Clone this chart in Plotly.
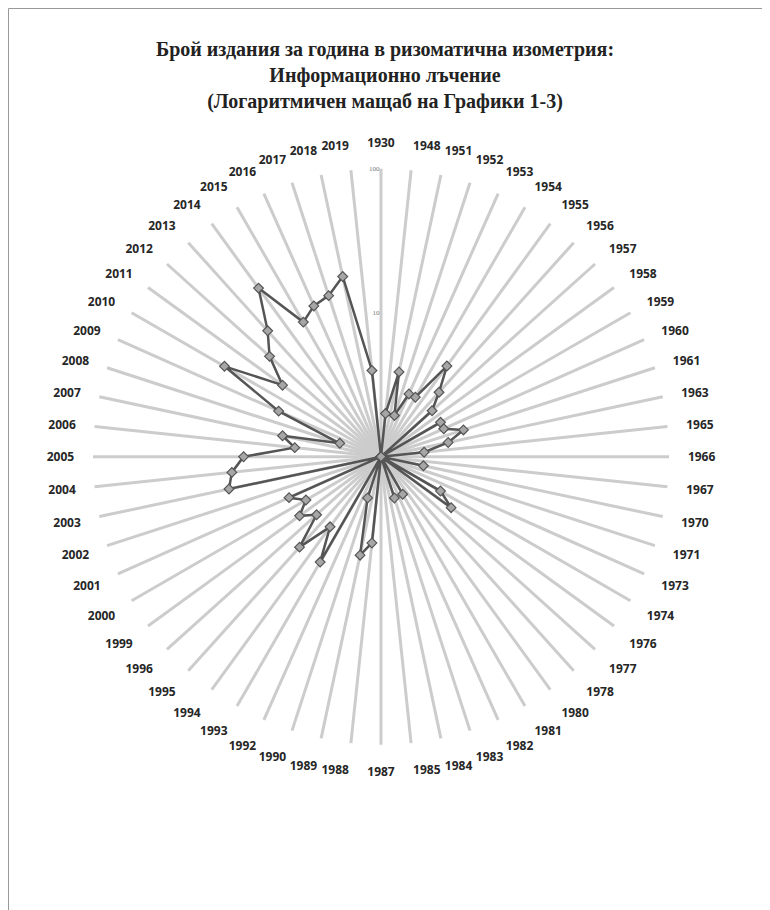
import plotly.graph_objects as go

years = ["1930", "1948", "1951", "1952", "1953", "1954", "1955", "1956", "1957", "1958",
         "1959", "1960", "1961", "1963", "1965", "1966", "1967", "1970", "1971", "1973",
         "1974", "1976", "1977", "1978", "1980", "1981", "1982", "1983", "1984", "1985",
         "1987", "1988", "1989", "1990", "1992", "1993", "1994", "1995", "1996", "1999",
         "2000", "2001", "2002", "2003", "2004", "2005", "2006", "2007", "2008", "2009",
         "2010", "2011", "2012", "2013", "2014", "2015", "2016", "2017", "2018", "2019"]

counts = [1, 2, 4, 2, 3, 3, 6, 4, 3, 1,
          3, 3, 4, 3, 2, 1, 1, 2, 1, 1,
          3, 4, 1, 1, 1, 2, 1, 2, 1, 1,
          1, 4, 5, 2, 1, 7, 4, 7, 4, 5,
          4, 5, 1, 12, 11, 9, 4, 5, 2, 6,
          18, 7, 11, 15, 28, 12, 14, 15, 19, 4]

radial_ticks = [1, 10, 100]

title_text = ("Брой издания за година в ризоматична изометрия:<br>"
              "Информационно лъчение<br>"
              "(Логаритмичен мащаб на Графики 1-3)")

# page has an 8px body margin, so the figure is drawn 8px in from the window edge
W, H = 762, 902
cx, cy, R = 373, 448.7, 288

fig = go.Figure()
fig.add_trace(go.Scatterpolar(
    r=counts + counts[:1],
    theta=years + years[:1],
    mode="lines+markers",
    line=dict(color="#555555", width=2.5),
    marker=dict(symbol="diamond", size=7.5, color="#a6a6a6",
                line=dict(color="#555555", width=1.2)),
    showlegend=False,
))

fig.update_layout(
    width=W, height=H,
    margin=dict(l=0, r=0, t=0, b=0),
    paper_bgcolor="white",
    plot_bgcolor="white",
    title=dict(text=title_text, x=(385 - 8) / W, xanchor="center",
               y=1 - 48 / H, yanchor="top",
               font=dict(family="Liberation Serif", size=20, color="#222222",
                         weight="bold")),
    polar=dict(
        domain=dict(x=[(cx - R) / W, (cx + R) / W],
                    y=[(H - cy - R) / H, (H - cy + R) / H]),
        bgcolor="white",
        angularaxis=dict(
            type="category",
            categoryarray=years,
            rotation=90,
            direction="clockwise",
            showline=False,
            showgrid=True,
            gridcolor="#cccccc",
            gridwidth=3,
            ticks="outside",
            ticklen=16,
            tickcolor="rgba(0,0,0,0)",
            tickfont=dict(family="Open Sans", size=12, color="#262626",
                          weight="bold"),
        ),
        radialaxis=dict(
            type="log",
            range=[0, 2],
            tickvals=radial_ticks,
            ticktext=[str(v) for v in radial_ticks],
            showgrid=False,
            showline=False,
            ticks="",
            angle=90,
            side="counterclockwise",
            tickangle=90,
            tickfont=dict(family="Liberation Serif", size=7, color="#777777"),
        ),
    ),
    shapes=[
        dict(type="line", xref="paper", yref="paper",
             x0=0.5 / W, x1=0.5 / W, y0=0, y1=1 - 0.5 / H,
             line=dict(color="#999999", width=1)),
        dict(type="line", xref="paper", yref="paper",
             x0=0.5 / W, x1=1, y0=1 - 0.5 / H, y1=1 - 0.5 / H,
             line=dict(color="#999999", width=1)),
    ],
)

fig.write_html("out.html")
